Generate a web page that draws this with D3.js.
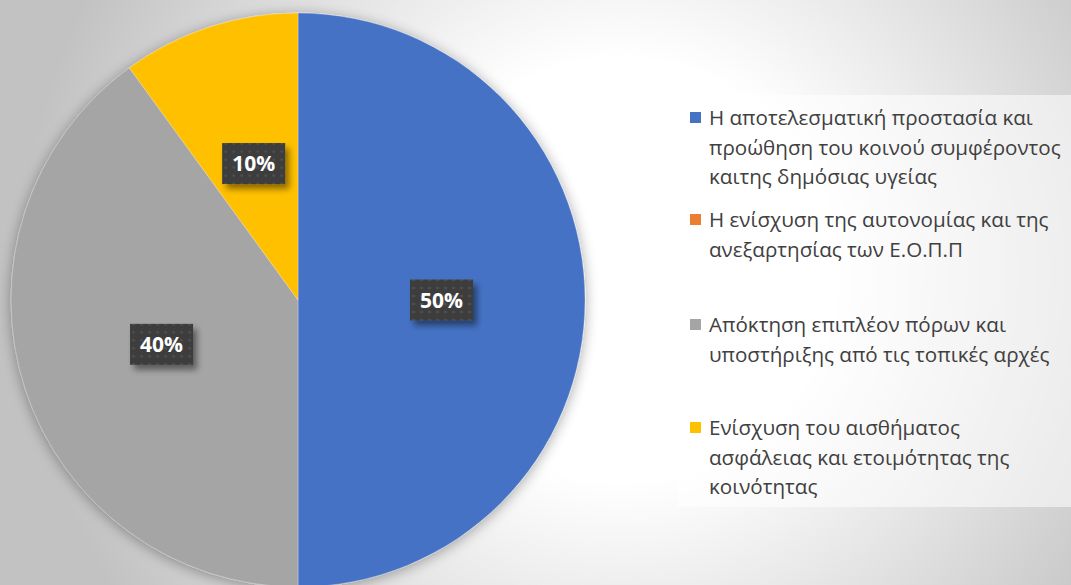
<!DOCTYPE html>
<html><head><meta charset="utf-8">
<script src="https://cdn.jsdelivr.net/npm/d3@7"></script>
<style>html,body{margin:0;padding:0;overflow:hidden;background:#fff}svg{display:block}</style>
</head><body>
<svg id="chart" width="1071" height="585"></svg>
<script>
const categories = [
  "Η αποτελεσματική προστασία και\nπροώθηση του κοινού συμφέροντος\nκαιτης δημόσιας υγείας",
  "Η ενίσχυση της αυτονομίας και της\nανεξαρτησίας των Ε.Ο.Π.Π",
  "Απόκτηση επιπλέον πόρων και\nυποστήριξης από τις τοπικές αρχές",
  "Ενίσχυση του αισθήματος\nασφάλειας και ετοιμότητας της\nκοινότητας"
];
const values = [50, 0, 40, 10];
const colors = ["#4472C4", "#ED7D31", "#A5A5A5", "#FFC000"];

const W = 1071, H = 585;
const svg = d3.select("#chart");
const defs = svg.append("defs");

const bg = defs.append("radialGradient").attr("id","bg")
  .attr("gradientUnits","userSpaceOnUse").attr("cx",620).attr("cy",270).attr("r",600);
bg.append("stop").attr("offset","0").attr("stop-color","#ffffff");
bg.append("stop").attr("offset","0.35").attr("stop-color","#ffffff");
bg.append("stop").attr("offset","1").attr("stop-color","#c2c2c2");
svg.append("rect").attr("width",W).attr("height",H).attr("fill","url(#bg)");

const sh = defs.append("filter").attr("id","pieShadow").attr("x","-20%").attr("y","-20%").attr("width","140%").attr("height","140%");
sh.append("feGaussianBlur").attr("in","SourceAlpha").attr("stdDeviation",7).attr("result","b");
sh.append("feOffset").attr("in","b").attr("dx",0).attr("dy",2).attr("result","o");
sh.append("feComponentTransfer").attr("in","o").attr("result","s")
  .append("feFuncA").attr("type","linear").attr("slope",0.35);
const m = sh.append("feMerge"); m.append("feMergeNode").attr("in","s"); m.append("feMergeNode").attr("in","SourceGraphic");

const lsh = defs.append("filter").attr("id","lblShadow").attr("x","-30%").attr("y","-30%").attr("width","170%").attr("height","170%");
lsh.append("feGaussianBlur").attr("in","SourceAlpha").attr("stdDeviation",3).attr("result","b");
lsh.append("feOffset").attr("in","b").attr("dx",4).attr("dy",5).attr("result","o");
lsh.append("feComponentTransfer").attr("in","o").attr("result","s")
  .append("feFuncA").attr("type","linear").attr("slope",0.45);
const m2 = lsh.append("feMerge"); m2.append("feMergeNode").attr("in","s"); m2.append("feMergeNode").attr("in","SourceGraphic");

const pat = defs.append("pattern").attr("id","dots").attr("patternUnits","userSpaceOnUse").attr("width",8).attr("height",8);
pat.append("rect").attr("width",8).attr("height",8).attr("fill","#3d3d3d");
pat.append("circle").attr("cx",4).attr("cy",4).attr("r",1.3).attr("fill","#525252");

const cx = 298, cy = 300, R = 287;
const data = categories.map((c,i)=>({cat:c, value:values[i], color:colors[i]}));
const pie = d3.pie().value(d=>d.value).sort(null);
const arcs = pie(data);
const arc = d3.arc().innerRadius(0).outerRadius(R);
const labelArc = d3.arc().innerRadius(R*0.5).outerRadius(R*0.5);

const g = svg.append("g").attr("transform",`translate(${cx},${cy})`);
g.append("g").attr("filter","url(#pieShadow)")
  .selectAll("path").data(arcs.filter(d=>d.value>0)).join("path")
  .attr("d",arc).attr("fill",d=>d.data.color)
  .attr("stroke","#ffffff").attr("stroke-opacity",0.35).attr("stroke-width",0.8);

const pct = d3.format(".0%");
const total = d3.sum(values);
const lbl = g.selectAll("g.lbl").data(arcs.filter(d=>d.value>0)).join("g")
  .attr("class","lbl")
  .attr("transform",d=>`translate(${labelArc.centroid(d)})`);
lbl.append("rect").attr("x",-31.5).attr("y",-20.5).attr("width",63).attr("height",41)
  .attr("fill","url(#dots)").attr("filter","url(#lblShadow)");
lbl.append("text").attr("text-anchor","middle").attr("dy","0.36em")
  .attr("font-family","'Open Sans', sans-serif").attr("font-weight","bold").attr("font-size",21)
  .attr("fill","#ffffff").text(d=>pct(d.value/total));

// legend
const lg = svg.append("g");
lg.append("rect").attr("x",678).attr("y",95).attr("width",W-678).attr("height",412)
  .attr("fill","#ffffff").attr("fill-opacity",0.55);
const itemY = [118, 220, 325, 428];
const lineH = 29.5;
data.forEach((d,i)=>{
  const gi = lg.append("g");
  gi.append("rect").attr("x",690).attr("y",itemY[i]-6).attr("width",11).attr("height",11).attr("fill",d.color);
  const t = gi.append("text").attr("font-family","'Open Sans', sans-serif").attr("font-size",20.6)
    .attr("fill","#404040");
  t.selectAll("tspan").data(d.cat.split("\n")).join("tspan")
    .attr("x",709).attr("y",(s,j)=>itemY[i]+j*lineH).attr("dy","0.35em").text(s=>s);
});
</script>
</body></html>
